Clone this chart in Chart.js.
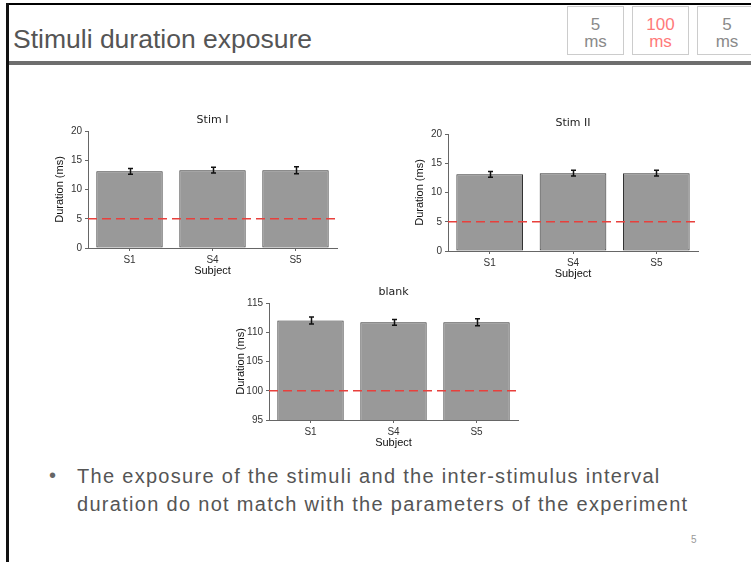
<!DOCTYPE html>
<html><head><meta charset="utf-8">
<script src="https://cdn.jsdelivr.net/npm/chart.js@4.4.1/dist/chart.umd.min.js"></script>
<style>
html,body{margin:0;padding:0;background:#fff;}
body{width:751px;height:562px;overflow:hidden;position:relative;font-family:"Liberation Sans",Arial,sans-serif;}
.topline{position:absolute;left:6px;top:3px;width:745px;height:2px;background:#000;}
.leftline{position:absolute;left:6px;top:3px;width:3px;height:559px;background:#111;}
.hbar{position:absolute;left:9px;top:61px;width:742px;height:4px;background:#6e6e6e;}
.title{position:absolute;left:13px;top:23.5px;font-size:26.5px;line-height:30px;color:#555;white-space:nowrap;}
.box{position:absolute;top:6px;height:49px;border:1px solid #ccc;color:#8a8a8a;text-align:center;font-size:17px;line-height:17px;box-sizing:border-box;padding-top:9px;}
.box.red{color:#ff7a7a;}
.bullet{position:absolute;left:49px;top:461px;font-size:20px;line-height:28px;color:#666;}
.text{position:absolute;left:77px;top:462px;font-size:20px;line-height:28px;letter-spacing:1.3px;color:#555;white-space:nowrap;}
.pnum{position:absolute;left:691px;top:534px;font-size:10px;color:#999;}
canvas{position:absolute;}
</style></head>
<body>
<div class="topline"></div>
<div class="leftline"></div>
<div class="title">Stimuli duration exposure</div>
<div class="box" style="left:567px;width:57px;">5<br>ms</div>
<div class="box red" style="left:632px;width:57px;">100<br>ms</div>
<div class="box" style="left:697px;width:60px;">5<br>ms</div>
<div class="hbar"></div>
<div class="bullet">•</div>
<div class="text">The exposure of the stimuli and the inter-stimulus interval<br>duration do not match with the parameters of the experiment</div>
<div class="pnum">5</div>
<script>
// ---- data ----
const subjects = ['S1', 'S4', 'S5'];
const stimIValues = [13.1, 13.3, 13.3];
const stimIErrors = [0.5, 0.5, 0.6];
const stimIIValues = [13.1, 13.3, 13.3];
const stimIIErrors = [0.5, 0.5, 0.5];
const blankValues = [112.0, 111.7, 111.7];
const blankErrors = [0.6, 0.5, 0.6];
const stimTarget = 5;
const blankTarget = 100;
const stimTicks = [0, 5, 10, 15, 20];
const blankTicks = [95, 100, 105, 110, 115];
const chartTitles = ['Stim I', 'Stim II', 'blank'];
const xTitle = 'Subject';
const yTitle = 'Duration (ms)';

const overlay = {
  id: 'overlay',
  afterDatasetsDraw(chart, args, opts) {
    const ctx = chart.ctx, y = chart.scales.y, a = chart.chartArea;
    // reference line
    ctx.save();
    ctx.strokeStyle = '#e8403c';
    ctx.lineWidth = 1.5;
    ctx.setLineDash([9, 5]);
    const ty = y.getPixelForValue(opts.target);
    ctx.beginPath(); ctx.moveTo(a.left, ty); ctx.lineTo(a.right, ty); ctx.stroke();
    ctx.restore();
    // error bars
    ctx.save();
    ctx.strokeStyle = '#111'; ctx.lineWidth = 1.5;
    const meta = chart.getDatasetMeta(0);
    meta.data.forEach((bar, i) => {
      const v = chart.data.datasets[0].data[i], e = opts.errors[i];
      const cx = Math.round(bar.x) + 0.5;
      const y1 = y.getPixelForValue(v + e), y2 = y.getPixelForValue(v - e);
      ctx.beginPath();
      ctx.moveTo(cx, y1); ctx.lineTo(cx, y2);
      ctx.moveTo(cx - 2.5, y1); ctx.lineTo(cx + 2.5, y1);
      ctx.moveTo(cx - 2.5, y2); ctx.lineTo(cx + 2.5, y2);
      ctx.stroke();
    });
    ctx.restore();
  }
};

function makeChart(title, values, errors, target, ticks, plot) {
  const box = { x: plot.l - 35, y: plot.t - 26, r: plot.r + 6, b: plot.b + 30 };
  const cv = document.createElement('canvas');
  cv.width = box.r - box.x; cv.height = box.b - box.y;
  cv.style.left = box.x + 'px'; cv.style.top = box.y + 'px';
  cv.style.width = cv.width + 'px'; cv.style.height = cv.height + 'px';
  document.body.appendChild(cv);
  new Chart(cv, {
    type: 'bar',
    data: { labels: subjects, datasets: [{ data: values, backgroundColor: '#999999', borderColor: '#333333', borderWidth: 1, borderSkipped: false, barPercentage: 1, categoryPercentage: 0.8 }] },
    options: {
      responsive: false, animation: false, devicePixelRatio: 1,
      layout: { padding: { left: 0, right: box.r - plot.r, top: 0, bottom: 0 } },
      plugins: {
        legend: { display: false }, tooltip: { enabled: false },
        title: { display: true, fullSize: false, text: title, color: '#222', font: { family: 'DejaVu Sans', size: 11, weight: 'normal' }, padding: { top: 8.4, bottom: 4.4 } },
        overlay: { errors: errors, target: target }
      },
      scales: {
        x: {
          grid: { display: true, drawOnChartArea: false, offset: false, tickLength: 3, color: '#666' },
          border: { color: '#666' },
          ticks: { color: '#333', padding: 3, font: { family: 'Liberation Sans', size: 10 } },
          title: { display: true, text: xTitle, color: '#111', padding: 0, font: { family: 'Liberation Sans', size: 11 } },
          afterFit: s => { s.height = box.b - plot.b; }
        },
        y: {
          min: ticks[0], max: ticks[ticks.length - 1],
          afterBuildTicks: s => { s.ticks = ticks.map(v => ({ value: v })); },
          grid: { display: true, drawOnChartArea: false, tickLength: 3, color: '#666' },
          border: { color: '#666' },
          ticks: { color: '#333', padding: 3, font: { family: 'Liberation Sans', size: 10 } },
          title: { display: true, text: yTitle, color: '#111', padding: 0, font: { family: 'Liberation Sans', size: 11 } },
          afterFit: s => { s.width = plot.l - box.x; }
        }
      }
    },
    plugins: [overlay]
  });
}

makeChart(chartTitles[0], stimIValues, stimIErrors, stimTarget, stimTicks, { l: 88, t: 131, r: 337, b: 248 });
makeChart(chartTitles[1], stimIIValues, stimIIErrors, stimTarget, stimTicks, { l: 448, t: 134, r: 698, b: 251 });
makeChart(chartTitles[2], blankValues, blankErrors, blankTarget, blankTicks, { l: 269, t: 303, r: 518, b: 420 });
</script>
</body></html>
